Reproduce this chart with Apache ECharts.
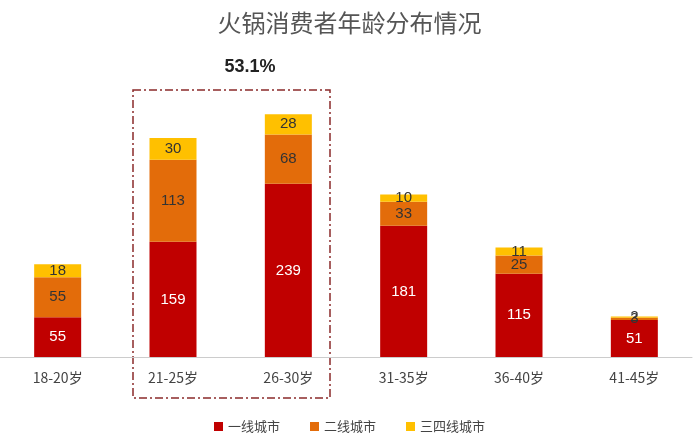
<!DOCTYPE html><html><head><meta charset="utf-8"><script src="https://cdn.jsdelivr.net/npm/echarts@6/dist/echarts.min.js"></script></head><body style="margin:0"><div id="c" style="width:699px;height:440px"></div><script>
const categories=['18-20岁','21-25岁','26-30岁','31-35岁','36-40岁','41-45岁'];
const tier1=[55,159,239,181,115,51];
const tier2=[55,113,68,33,25,3];
const tier3=[18,30,28,10,11,2];
const names=['一线城市','二线城市','三四线城市'];
const colors=['#C00000','#E36C0A','#FFC000'];
const ch=echarts.init(document.getElementById('c'));
const mk=(n,d,c,lc)=>({name:n,type:'bar',stack:'a',data:d,barWidth:47,itemStyle:{color:c},label:{show:true,position:'inside',color:lc,fontSize:15,fontFamily:'Liberation Sans'}});
ch.setOption({
 title:{text:'火锅消费者年龄分布情况',left:'center',top:6,textStyle:{fontFamily:'Noto Sans CJK SC',fontWeight:'normal',fontSize:24,color:'#555'}},
 legend:{bottom:2,itemWidth:9,itemHeight:9,itemGap:30,icon:'rect',textStyle:{fontSize:13,color:'#444',fontFamily:'Noto Sans CJK SC'}},
 grid:{left:-6,right:7,top:67,bottom:83},
 xAxis:{type:'category',data:categories,axisTick:{show:false},axisLine:{lineStyle:{color:'#ccc'}},axisLabel:{fontSize:14,color:'#444',margin:14,fontFamily:'Noto Sans CJK SC'}},
 yAxis:{type:'value',min:0,max:400,show:false,splitLine:{show:false}},
 series:[mk(names[0],tier1,colors[0],'#fff'),mk(names[1],tier2,colors[1],'#333'),mk(names[2],tier3,colors[2],'#333')],
 graphic:[
  {type:'rect',shape:{x:133,y:90,width:197,height:308},style:{fill:'none',stroke:'#8B2A2A',lineWidth:1.5,lineDash:[8,3,2,3]}},
  {type:'text',x:250,y:67,style:{text:'53.1%',fontSize:18,fontWeight:'bold',fill:'#222',align:'center',verticalAlign:'middle',fontFamily:'Liberation Sans'}}
 ]
});
</script></body></html>
